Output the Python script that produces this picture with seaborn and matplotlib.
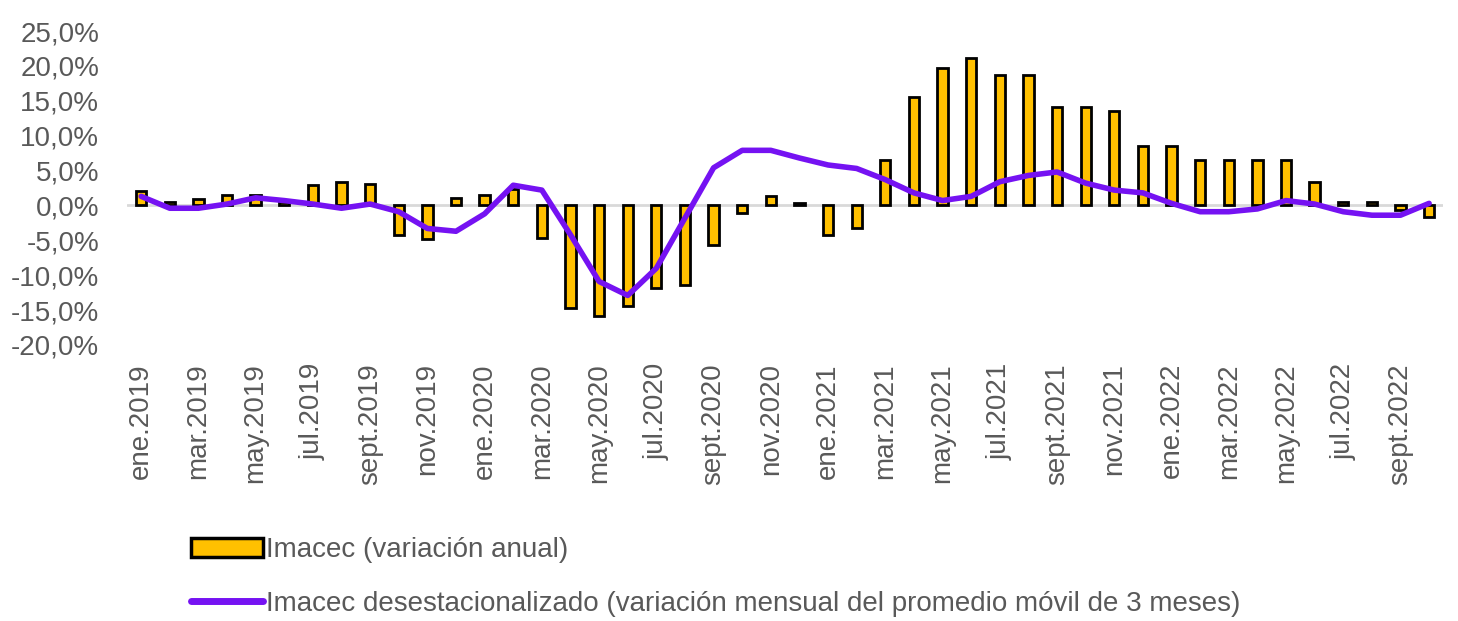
import numpy as np
import pandas as pd
import matplotlib
matplotlib.use("Agg")
import matplotlib.pyplot as plt
import seaborn as sns
from matplotlib.patches import Patch
from matplotlib.lines import Line2D
from matplotlib.ticker import FuncFormatter

# ----------------------------------------------------
# Data
# ----------------------------------------------------
month_names = ["ene", "feb", "mar", "abr", "may", "jun",
               "jul", "ago", "sept", "oct", "nov", "dic"]
years = [2019, 2020, 2021, 2022]
months = [f"{m}.{y}" for y in years for m in month_names][:46]  # ene.2019 .. oct.2022

imacec_anual = [
    2.0, 0.5, 0.9, 1.5, 1.5, 0.5, 3.0, 3.4, 3.1, -4.2, -4.8, 1.0,
    1.5, 2.3, -4.7, -14.7, -15.8, -14.4, -11.8, -11.4, -5.7, -1.1, 1.4, 0.4,
    -4.2, -3.2, 6.5, 15.6, 19.7, 21.1, 18.7, 18.7, 14.1, 14.1, 13.6, 8.5,
    8.5, 6.5, 6.5, 6.5, 6.5, 3.4, 0.5, 0.5, -0.6, -1.7,
]
imacec_desest = [
    1.3, -0.4, -0.4, 0.2, 1.1, 0.7, 0.2, -0.4, 0.2, -0.9, -3.3, -3.7,
    -1.2, 2.9, 2.2, -4.2, -10.9, -12.9, -9.0, -1.8, 5.4, 7.9, 7.9, 6.8,
    5.8, 5.3, 3.7, 1.8, 0.7, 1.3, 3.4, 4.3, 4.8, 3.2, 2.2, 1.8,
    0.3, -0.9, -0.9, -0.5, 0.7, 0.2, -0.9, -1.4, -1.4, 0.3,
]

label_bar = "Imacec (variación anual)"
label_line = "Imacec desestacionalizado (variación mensual del promedio móvil de 3 meses)"

df = pd.DataFrame({"mes": months, "anual": imacec_anual, "desest": imacec_desest})
df["pos"] = np.arange(len(df))

# ----------------------------------------------------
# Styling
# ----------------------------------------------------
sns.set_theme(style="white")
plt.rcParams["font.family"] = ["Liberation Sans", "DejaVu Sans"]

bar_color = "#FFC000"
line_color = "#7512F2"
text_color = "#595959"

fig, ax = plt.subplots(figsize=(14.58, 6.21), dpi=100)
fig.subplots_adjust(left=0.087, right=0.99, top=0.95, bottom=0.4445)

ax.axhline(0, color="#d9d9d9", linewidth=2, zorder=0)

sns.barplot(data=df, x="pos", y="anual", color=bar_color, saturation=1,
            edgecolor="black", linewidth=2, width=0.36, ax=ax, zorder=2,
            native_scale=True)
sns.lineplot(data=df, x="pos", y="desest", color=line_color, linewidth=4,
             sort=False, ax=ax, zorder=3, solid_joinstyle="round",
             solid_capstyle="round")

ax.set_xlim(-0.5, len(df) - 0.5)
ax.set_ylim(-20, 25)
ax.set_yticks(np.arange(-20, 26, 5))
ax.yaxis.set_major_formatter(FuncFormatter(lambda v, p: f"{v:.1f}%".replace(".", ",")))

tick_pos = df["pos"].iloc[::2]
ax.set_xticks(tick_pos)
ax.set_xticklabels(df["mes"].iloc[::2], rotation=90)

ax.tick_params(axis="both", length=0, colors=text_color)
ax.tick_params(axis="y", labelsize=20, pad=20)
ax.tick_params(axis="x", labelsize=20, pad=13)
ax.set_xlabel("")
ax.set_ylabel("")
for s in ax.spines.values():
    s.set_visible(False)
ax.grid(False)

handles = [
    Patch(facecolor=bar_color, edgecolor="black", linewidth=2.5),
    Line2D([0], [0], color=line_color, linewidth=5),
]
fig.legend(handles, [label_bar, label_line], loc="lower left",
           bbox_to_anchor=(0.128, 0.0), frameon=False, fontsize=20,
           labelcolor=text_color, handlelength=2.6, handletextpad=0.1,
           labelspacing=1.0, borderpad=0.15, borderaxespad=0.0)

fig.savefig("out.png", dpi=100, facecolor="white")
